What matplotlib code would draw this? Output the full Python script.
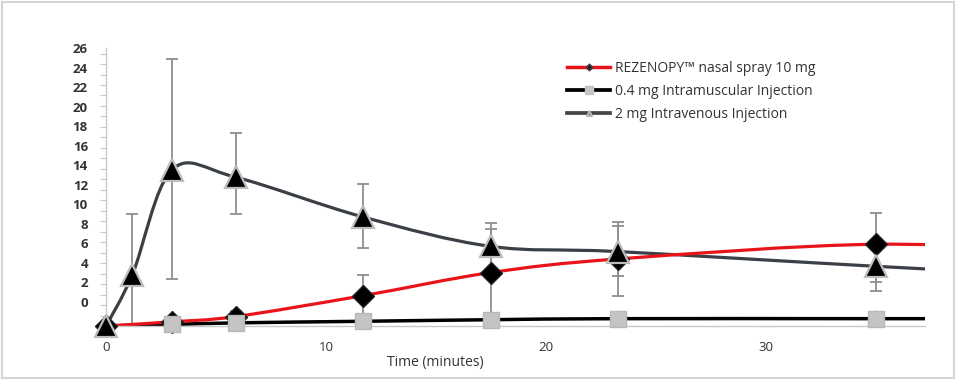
import numpy as np
import matplotlib
matplotlib.use("Agg")
import matplotlib.pyplot as plt
from matplotlib.path import Path
from matplotlib.patches import PathPatch, Rectangle
from matplotlib.lines import Line2D

plt.rcParams['font.family'] = ['Open Sans', 'DejaVu Sans']

# ---- data ----
ns_time = [0, 3, 5.9, 11.7, 17.5, 23.3, 35, 45]
ns_mean = [0, 0.4, 0.9, 2.9, 5.1, 6.4, 7.8, 7.0]
ns_err_lo = [0, 0.3, 0.5, 2.0, 4.2, 3.5, 3.6, 0]
ns_err_hi = [0, 0.3, 0.5, 2.0, 4.2, 3.5, 3.0, 0]

im_time = [0, 3, 5.9, 11.7, 17.5, 23.3, 35, 45]
im_mean = [0, 0.15, 0.3, 0.45, 0.6, 0.7, 0.7, 0.7]
im_err = [0, 0.6, 0.6, 0.8, 0.8, 0.8, 0.8, 0]

iv_time = [0, 1.2, 3, 5.9, 11.7, 17.5, 23.3, 35, 45]
iv_mean = [0, 4.9, 14.9, 14.2, 10.4, 7.6, 7.1, 5.7, 4.6]
iv_err_lo = [0, 5.8, 10.4, 3.5, 3.0, 2.2, 2.3, 2.4, 0]
iv_err_hi = [0, 5.8, 10.6, 4.2, 3.2, 2.2, 2.4, 2.4, 0]

labels = ['REZENOPY\u2122 nasal spray 10 mg',
          '0.4 mg Intramuscular Injection',
          '2 mg Intravenous Injection']

x_ticks = [0, 10, 20, 30]
y_ticklabels = list(range(0, 27, 2))

RED = '#e8141a'
IVC = '#3b4046'
EBC = '#8f8f8f'
CAPC = '#5a5a5a'
TXT = '#333333'


def smooth_path(xs, ys):
    # excel style smoothed line (catmull-rom -> cubic bezier)
    pts = np.column_stack([xs, ys]).astype(float)
    n = len(pts)
    verts = [pts[0]]
    codes = [Path.MOVETO]
    for i in range(n - 1):
        p0 = pts[max(i - 1, 0)]
        p1 = pts[i]
        p2 = pts[i + 1]
        p3 = pts[min(i + 2, n - 1)]
        verts += [p1 + (p2 - p0) / 6.0, p2 - (p3 - p1) / 6.0, p2]
        codes += [Path.CURVE4] * 3
    return Path(verts, codes)


fig = plt.figure(figsize=(9.56, 3.8), dpi=100)
ax = fig.add_axes([106 / 956, 54 / 380, 819 / 956, 278 / 380])
fig.patches.append(Rectangle((0.002, 0.004), 0.996, 0.99, transform=fig.transFigure,
                             fill=False, ec='#d4d4d4', lw=1.5))

# lines
ax.add_patch(PathPatch(smooth_path(iv_time, iv_mean), fill=False, ec=IVC, lw=2.3, zorder=2))
ax.add_patch(PathPatch(smooth_path(ns_time, ns_mean), fill=False, ec=RED, lw=2.3, zorder=2.2))
ax.add_patch(PathPatch(smooth_path(im_time, im_mean), fill=False, ec='black', lw=2.5, zorder=2.1))

# error bars
eb1 = ax.errorbar(ns_time, ns_mean, yerr=[ns_err_lo, ns_err_hi], fmt='none', ecolor=EBC,
                  elinewidth=1.3, capsize=4, capthick=1.3, zorder=1.5)
ax.errorbar(im_time, im_mean, yerr=im_err, fmt='none', ecolor='#b0b0b0',
            elinewidth=1.0, capsize=0, zorder=1.5)
eb3 = ax.errorbar(iv_time, iv_mean, yerr=[iv_err_lo, iv_err_hi], fmt='none', ecolor=EBC,
                  elinewidth=1.3, capsize=4, capthick=1.3, zorder=1.5)
for eb in (eb1, eb3):
    for cap in eb[1]:
        cap.set_color(CAPC)

# markers
ax.plot(ns_time, ns_mean, ls='none', marker='D', ms=11, mfc='black', mec='#222222',
        mew=1, zorder=3, clip_on=False)
ax.plot(im_time[1:], im_mean[1:], ls='none', marker='s', ms=12, mfc='#c4c4c4', mec='#b8b8b8',
        mew=1, zorder=4, clip_on=False)
ax.plot(iv_time, iv_mean, ls='none', marker='^', ms=16, mfc='black', mec='#bdbdbd',
        mew=1.6, zorder=5, clip_on=False)

ax.set_xlim(0, 37.25)
ax.set_ylim(0, 26)

# axes look
for s in ['top', 'right']:
    ax.spines[s].set_visible(False)
for s in ['left', 'bottom']:
    ax.spines[s].set_color('#c8c8c8')
    ax.spines[s].set_linewidth(1.0)

ax.set_xticks(x_ticks)
ax.set_xticklabels([str(t) for t in x_ticks])
ax.tick_params(axis='x', length=0, pad=11, labelsize=9.5, labelcolor=TXT)

# y labels sit on a squeezed scale in the reference
ylab_pos = [2.3 + 0.932 * v for v in y_ticklabels]
ax.set_yticks(ylab_pos)
ax.set_yticklabels([str(v) for v in y_ticklabels], fontweight='bold')
ax.set_yticks(np.arange(0, 27, 1), minor=True)
ax.tick_params(axis='y', which='major', length=0, pad=13, labelsize=9.5, labelcolor=TXT)
ax.tick_params(axis='y', which='minor', length=4, width=0.8, color='#c8c8c8')

ax.set_xlabel('Time (minutes)', fontsize=10, color=TXT)
ax.xaxis.set_label_coords(0.402, -0.105)

handles = [
    Line2D([], [], color=RED, lw=2.5, marker='D', ms=3.5, mfc='#222222', mec='#444444'),
    Line2D([], [], color='black', lw=2.7, marker='s', ms=6, mfc='#c4c4c4', mec='#c4c4c4'),
    Line2D([], [], color='#454545', lw=2.7, marker='^', ms=5, mfc='#9a9a9a', mec='#bdbdbd'),
]
leg = ax.legend(handles, labels, loc='upper left', bbox_to_anchor=(0.563, 0.955),
                frameon=False, fontsize=10, handlelength=3.1, handletextpad=0.36,
                labelspacing=0.6, borderpad=0, borderaxespad=0)
for t in leg.get_texts():
    t.set_color(TXT)

fig.savefig('out.png', dpi=100)
